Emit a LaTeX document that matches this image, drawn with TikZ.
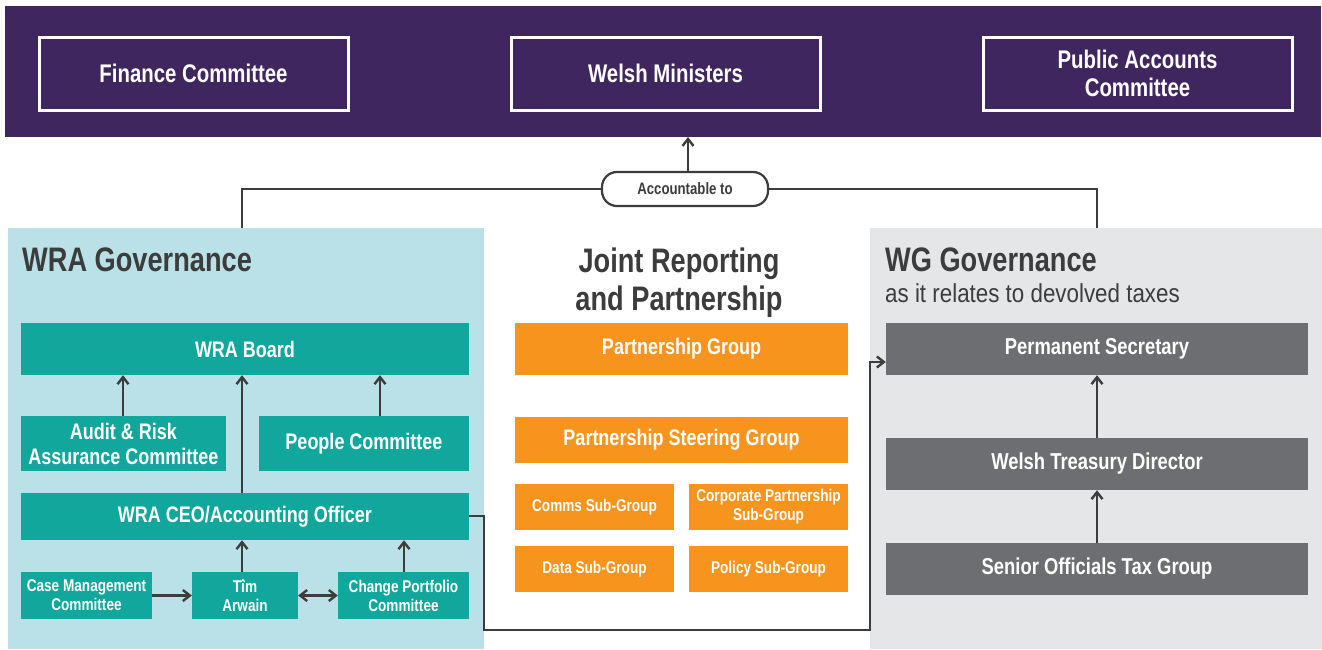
\documentclass[tikz,border=0pt]{standalone}
\usepackage{fontspec}
\setmainfont{Liberation Sans}[FakeStretch=0.8]
\newfontfamily\plainfont{Liberation Sans}[FakeStretch=0.86]
\usetikzlibrary{arrows.meta}
\definecolor{purp}{HTML}{40265F}
\definecolor{teal}{HTML}{12A79D}
\definecolor{lblue}{HTML}{B9E1E7}
\definecolor{lgray}{HTML}{E5E6E8}
\definecolor{dgray}{HTML}{6D6E71}
\definecolor{orng}{HTML}{F7941D}
\definecolor{ink}{HTML}{3C3C3C}
\tikzset{
  box/.style={inner sep=0pt, align=center, font=\bfseries, text=white},
  topbox/.style={box, draw=white, line width=3pt, fill=purp, font=\fontsize{25.5}{28}\bfseries\selectfont},
  tealbox/.style={box, fill=teal, font=\fontsize{22.5}{25}\bfseries\selectfont},
  smallteal/.style={box, fill=teal, font=\fontsize{17}{19}\bfseries\selectfont},
  orbox/.style={box, fill=orng, font=\fontsize{22.5}{25}\bfseries\selectfont},
  smallor/.style={box, fill=orng, font=\fontsize{17}{19}\bfseries\selectfont},
  graybox/.style={box, fill=dgray, font=\fontsize{23}{26}\bfseries\selectfont},
  conn/.style={draw=ink, line width=2.8pt},
  arr/.style={conn, -{Straight Barb[length=7pt,width=11pt,line width=2.4pt]}},
  darr/.style={conn, {Straight Barb[length=7pt,width=11pt,line width=2.4pt]}-{Straight Barb[length=7pt,width=11pt,line width=2.4pt]}},
  heading/.style={inner sep=0pt, text=ink, font=\fontsize{34}{38}\bfseries\selectfont},
}
\newcommand{\bx}[7]{\node[#6, minimum width={(#4-#2)*1pt}, minimum height={(#5-#3)*1pt}] (#1) at ({(#2+#4)/2},{(#3+#5)/2}) {#7};}
\begin{document}
\begin{tikzpicture}[x=1pt,y=-1pt]
\useasboundingbox (0,0) rectangle (1322,649);
\fill[white] (0,0) rectangle (1322,649);
% top band
\fill[purp] (5,6) rectangle (1321,137);
\coordinate (bandbot) at (688,137);
\bx{fin}{39}{37}{348}{110}{topbox}{Finance Committee}
\bx{wm}{511}{37}{820}{110}{topbox}{Welsh Ministers}
\bx{pac}{983}{37}{1292}{110}{topbox}{Public Accounts\\Committee}
% panels
\fill[lblue] (8,228) rectangle (484,649);
\fill[lgray] (870,228) rectangle (1322,649);
\coordinate (lpt) at (242,228);
\coordinate (rpt) at (1097,228);
% accountable pill
\node[draw=ink, line width=2.2pt, rounded corners=15pt, fill=white, minimum width=166pt, minimum height=34pt, inner sep=0pt, font=\fontsize{16.5}{18}\bfseries\selectfont, text=ink] (acc) at (685,189) {Accountable to};
\draw[arr] (acc.north -| bandbot) -- (bandbot);
\draw[conn] (acc.west) -- (242,189) -- (lpt);
\draw[conn] (acc.east) -- (1097,189) -- (rpt);
% headings
\node[heading, anchor=north west] (wrah) at (22,248) {WRA Governance};
\node[heading, anchor=north, align=center, font=\fontsize{34}{38}\bfseries\selectfont] (jrh) at (679,248) {Joint Reporting\\and Partnership};
\node[heading, anchor=north west] (wgh) at (885,248) {WG Governance};
\node[inner sep=0pt, anchor=north west, text=ink, font=\fontsize{26}{30}\plainfont] (wgs) at (885,283) {as it relates to devolved taxes};
% WRA boxes
\bx{board}{21}{323}{469}{375}{tealbox}{WRA Board}
\bx{audit}{21}{416}{226}{471}{tealbox}{Audit \& Risk\\Assurance Committee}
\bx{people}{259}{416}{469}{471}{tealbox}{People Committee}
\bx{ceo}{21}{493}{469}{540}{tealbox}{WRA CEO/Accounting Officer}
\bx{case}{21}{572}{152}{619}{smallteal}{Case Management\\Committee}
\bx{tim}{192}{572}{298}{619}{smallteal}{Tîm\\Arwain}
\bx{change}{338}{572}{469}{619}{smallteal}{Change Portfolio\\Committee}
\draw[arr] (audit.north -| 123,0) -- (board.south -| 123,0);
\draw[arr] (people.north -| 380,0) -- (board.south -| 380,0);
\draw[arr] (ceo.north -| 242,0) -- (board.south -| 242,0);
\draw[arr] (tim.north -| 242,0) -- (ceo.south -| 242,0);
\draw[arr] (change.north -| 404,0) -- (ceo.south -| 404,0);
\draw[arr] (case.east) -- (tim.west);
\draw[darr] (tim.east) -- (change.west);
% joint boxes
\bx{pg}{515}{323}{848}{375}{orbox}{Partnership Group}
\bx{psg}{515}{417}{848}{463}{orbox}{Partnership Steering Group}
\bx{comms}{515}{484}{674}{530}{smallor}{Comms Sub-Group}
\bx{corp}{689}{484}{848}{530}{smallor}{Corporate Partnership\\Sub-Group}
\bx{data}{515}{546}{674}{592}{smallor}{Data Sub-Group}
\bx{policy}{689}{546}{848}{592}{smallor}{Policy Sub-Group}
% WG boxes
\bx{ps}{886}{323}{1308}{375}{graybox}{Permanent Secretary}
\bx{wtd}{886}{438}{1308}{490}{graybox}{Welsh Treasury Director}
\bx{sotg}{886}{543}{1308}{595}{graybox}{Senior Officials Tax Group}
\draw[arr] (wtd.north) -- (ps.south);
\draw[arr] (sotg.north) -- (wtd.south);
% CEO to Permanent Secretary
\draw[arr, line width=2.2pt] (ceo.east |- 0,516) -- (484,516) -- (484,630) -- (870,630) -- (870,362) -- (ps.west |- 0,362);
\end{tikzpicture}
\end{document}
